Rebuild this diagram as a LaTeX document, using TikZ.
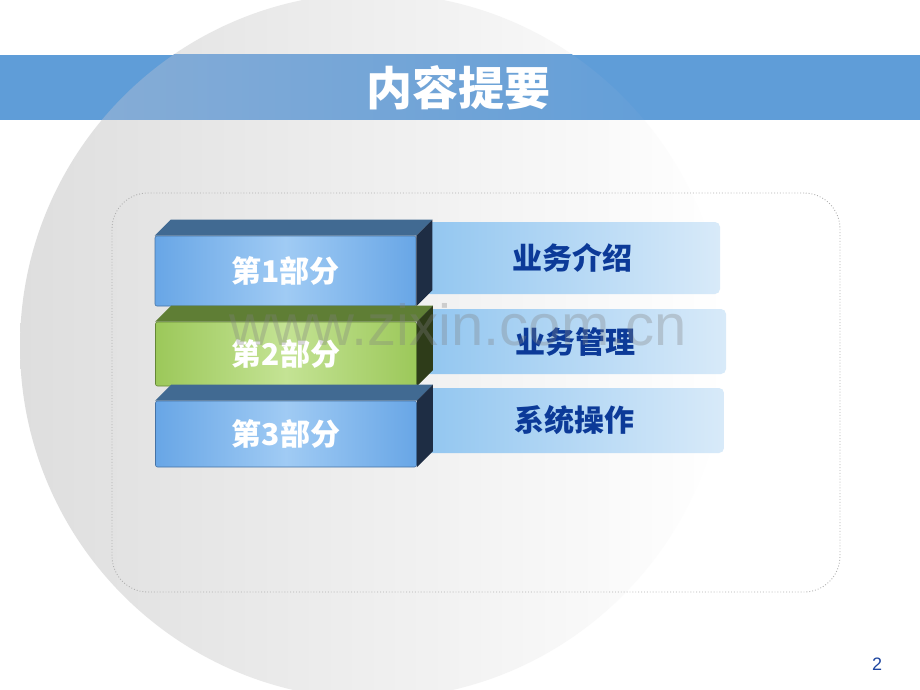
\documentclass[tikz,border=0pt]{standalone}
\usepackage{fontspec}
\newfontfamily\cjk{Noto Sans CJK SC}
\newfontfamily\lsans{Liberation Sans}
\definecolor{barblue}{RGB}{95,157,216}
\definecolor{barlight}{RGB}{138,174,214}
\definecolor{circgray}{RGB}{222,222,222}
\definecolor{frontA}{RGB}{104,166,230}
\definecolor{frontB}{RGB}{160,203,244}
\definecolor{frontline}{RGB}{70,115,165}
\definecolor{topblue}{RGB}{65,106,146}
\definecolor{sideblue}{RGB}{30,45,68}
\definecolor{greenA}{RGB}{156,200,90}
\definecolor{greenB}{RGB}{196,227,148}
\definecolor{greenline}{RGB}{100,135,55}
\definecolor{topgreen}{RGB}{95,126,53}
\definecolor{sidegreen}{RGB}{46,60,25}
\definecolor{labA}{RGB}{146,198,240}
\definecolor{labB}{RGB}{216,234,249}
\definecolor{labtext}{RGB}{12,58,152}
\definecolor{dotgray}{RGB}{176,176,176}
\definecolor{pagenum}{RGB}{30,70,160}
\begin{document}
\begin{tikzpicture}[x=1pt,y=-1pt,
  titletext/.style={text=white, font=\cjk\bfseries\fontsize{46}{50}\selectfont, inner sep=0pt},
  framebox/.style={draw=dotgray, line width=0.9pt, dash pattern=on 0.9pt off 2pt, rounded corners=36pt, minimum width=728pt, minimum height=399pt, inner sep=0pt},
  labbox/.style={rounded corners=5pt, left color=labA, right color=labB, text=labtext, font=\cjk\bfseries\fontsize{30}{34}\selectfont, inner sep=0pt},
  bluefront/.style={draw=frontline, line width=0.6pt, rounded corners=2pt, left color=frontA, right color=frontA, middle color=frontB, minimum width=261pt, text=white, font=\cjk\bfseries\fontsize{30}{34}\selectfont, inner sep=0pt},
  greenfront/.style={bluefront, draw=greenline, left color=greenA, right color=greenA, middle color=greenB},
  wmark/.style={text=gray, opacity=0.32, font=\lsans\fontsize{58}{62}\selectfont, inner sep=0pt},
  pnum/.style={text=pagenum, font=\lsans\fontsize{18}{20}\selectfont, inner sep=0pt}
]
\useasboundingbox (0,0) rectangle (920,690);
\fill[white] (0,0) rectangle (920,690);
\begin{scope}
  \clip (0,0) rectangle (920,690);
  \shade[left color=circgray, right color=white] (373,346) circle (353);
  \fill[barblue] (0,55) rectangle (920,120);
  \begin{scope}
    \clip (0,55) rectangle (920,120);
    \shade[left color=barlight, right color=barblue] (373,346) circle (353);
  \end{scope}
\end{scope}
\node[titletext] (title) at (458,88) {内容提要};
\node[framebox] (frame) at (476,392.5) {};
% right label boxes
\node[labbox, minimum width=295pt, minimum height=72pt] (la) at (572.5,258) {业务介绍};
\node[labbox, minimum width=301pt, minimum height=65pt] (lb) at (575.5,341.5) {业务管理};
\node[labbox, minimum width=299pt, minimum height=65pt] (lc) at (574.5,420.5) {系统操作};
% 3D boxes
\node[bluefront, minimum height=70pt] (b1) at (285.5,271) {第1部分};
\fill[topblue] (b1.north west) -- ++(16,-16) -- ([shift={(16,-16)}]b1.north east) -- (b1.north east) -- cycle;
\fill[sideblue] (b1.north east) -- ++(16,-16) -- ([shift={(16,-16)}]b1.south east) -- (b1.south east) -- cycle;
\node[greenfront, minimum height=64pt] (b2) at (286,354) {第2部分};
\fill[topgreen] (b2.north west) -- ++(16,-16) -- ([shift={(16,-16)}]b2.north east) -- (b2.north east) -- cycle;
\fill[sidegreen] (b2.north east) -- ++(16,-16) -- ([shift={(16,-16)}]b2.south east) -- (b2.south east) -- cycle;
\node[bluefront, minimum height=66pt] (b3) at (286,434) {第3部分};
\fill[topblue] (b3.north west) -- ++(16,-16) -- ([shift={(16,-16)}]b3.north east) -- (b3.north east) -- cycle;
\fill[sideblue] (b3.north east) -- ++(16,-16) -- ([shift={(16,-16)}]b3.south east) -- (b3.south east) -- cycle;
% watermark and page number
\node[wmark, anchor=base] (wm) at (458,345) {www.zixin.com.cn};
\node[pnum, anchor=base] (pg) at (877,670) {2};
\end{tikzpicture}
\end{document}
